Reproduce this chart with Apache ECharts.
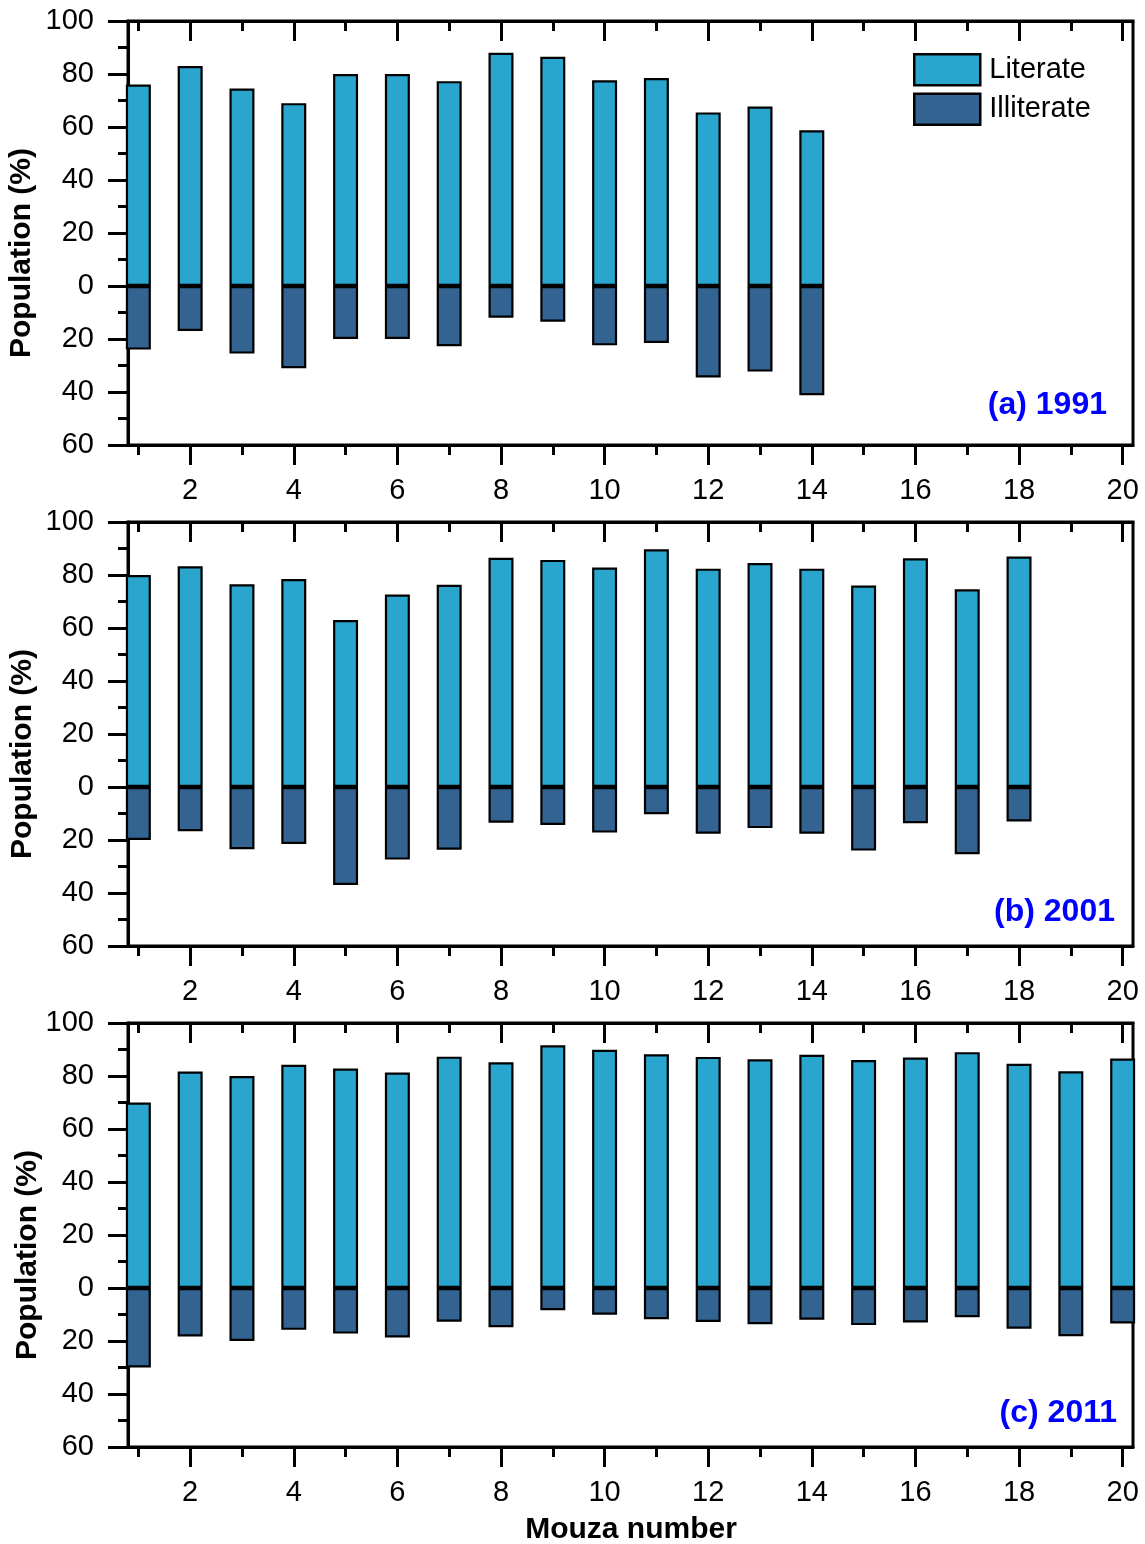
<!DOCTYPE html>
<html>
<head>
<meta charset="utf-8">
<script src="https://cdn.jsdelivr.net/npm/echarts@6/dist/echarts.min.js"></script>
<style>
html,body{margin:0;padding:0;background:#fff;}
#chart{width:1145px;height:1544px;}
</style>
</head>
<body>
<div id="chart"></div>
<script>
// ---- data ----
const mouza1991 = [1,2,3,4,5,6,7,8,9,10,11,12,13,14];
const literate1991 = [76, 83, 74.5, 69, 80, 80, 77.3, 88, 86.5, 77.6, 78.5, 65.5, 67.7, 58.8];
const illiterate1991 = [24, 17, 25.5, 31, 20, 20, 22.7, 12, 13.5, 22.4, 21.5, 34.5, 32.3, 41.2];

const mouza2001 = [1,2,3,4,5,6,7,8,9,10,11,12,13,14,15,16,17,18];
const literate2001 = [80, 83.3, 76.5, 78.5, 63, 72.6, 76.3, 86.5, 85.7, 82.8, 89.7, 82.4, 84.5, 82.4, 76, 86.3, 74.6, 87];
const illiterate2001 = [20, 16.7, 23.5, 21.5, 37, 27.4, 23.7, 13.5, 14.3, 17.2, 10.3, 17.6, 15.5, 17.6, 24, 13.7, 25.4, 13];

const mouza2011 = [1,2,3,4,5,6,7,8,9,10,11,12,13,14,15,16,17,18,19,20];
const literate2011 = [70, 81.7, 80, 84.2, 82.8, 81.3, 87.3, 85.2, 91.6, 89.9, 88.2, 87.2, 86.3, 88, 86, 87, 89, 84.6, 81.8, 86.6];
const illiterate2011 = [30, 18.3, 20, 15.8, 17.2, 18.7, 12.7, 14.8, 8.4, 10.1, 11.8, 12.8, 13.7, 12, 14, 13, 11, 15.4, 18.2, 13.4];

const panelLabels = ['(a) 1991', '(b) 2001', '(c) 2011'];
const xMajorTicks = [2,4,6,8,10,12,14,16,18,20];
const xMinorTicks = [1,3,5,7,9,11,13,15,17,19];
const yAxisTitle = 'Population (%)';
const xAxisTitle = 'Mouza number';
const seriesNames = ['Literate', 'Illiterate'];

// ---- layout / style ----
const FONT = 'Liberation Sans, Arial, sans-serif';
const LIT_COLOR = '#29a5ce';
const ILL_COLOR = '#326391';
const panelTops = [21, 522, 1023];
const panelH = 424;
const gridLeft = 128, gridWidth = 1005;

const panels = [
  {x: mouza1991, lit: literate1991, ill: illiterate1991},
  {x: mouza2001, lit: literate2001, ill: illiterate2001},
  {x: mouza2011, lit: literate2011, ill: illiterate2011}
];

const grids = [], xAxes = [], yAxes = [], series = [], graphics = [];
const lineW = 3;
const axisLineStyle = {color: '#000', width: lineW};

panels.forEach((p, i) => {
  grids.push({left: gridLeft, top: panelTops[i], width: gridWidth, height: panelH,
    show: true, borderColor: '#000', borderWidth: lineW, backgroundColor: 'transparent'});
});
panels.forEach((p, i) => {
  grids.push({left: gridLeft, top: panelTops[i], width: gridWidth, height: panelH, show: false});
});

panels.forEach((p, i) => {
  xAxes.push({type: 'value', gridIndex: i, position: 'bottom', min: 0.8, max: 20.2,
    axisLine: {show: true, onZero: false, lineStyle: axisLineStyle},
    axisTick: {show: true, customValues: xMajorTicks, length: 20, inside: false, lineStyle: axisLineStyle},
    axisLabel: {show: true, customValues: xMajorTicks, margin: 31, color: '#000', fontSize: 29, fontFamily: FONT},
    splitLine: {show: false}});
});
panels.forEach((p, i) => {
  xAxes.push({type: 'value', gridIndex: i, position: 'top', min: 0.8, max: 20.2,
    axisLine: {show: true, onZero: false, lineStyle: axisLineStyle},
    axisTick: {show: true, customValues: xMajorTicks, length: 20, inside: true, lineStyle: axisLineStyle},
    axisLabel: {show: false}, splitLine: {show: false}});
});
panels.forEach((p, i) => {
  xAxes.push({type: 'value', gridIndex: 3 + i, position: 'bottom', min: 0.8, max: 20.2,
    axisLine: {show: false, onZero: false},
    axisTick: {show: true, customValues: xMinorTicks, length: 10, inside: false, lineStyle: axisLineStyle},
    axisLabel: {show: false}, splitLine: {show: false}});
});
panels.forEach((p, i) => {
  xAxes.push({type: 'value', gridIndex: 3 + i, position: 'top', min: 0.8, max: 20.2,
    axisLine: {show: false, onZero: false},
    axisTick: {show: true, customValues: xMinorTicks, length: 10, inside: true, lineStyle: axisLineStyle},
    axisLabel: {show: false}, splitLine: {show: false}});
});

panels.forEach((p, i) => {
  yAxes.push({type: 'value', gridIndex: i, position: 'left', min: -60, max: 100, interval: 20,
    axisLine: {show: true, onZero: false, lineStyle: axisLineStyle},
    axisTick: {show: true, length: 20, inside: false, lineStyle: axisLineStyle},
    minorTick: {show: true, splitNumber: 2, length: 10, lineStyle: axisLineStyle},
    axisLabel: {show: true, margin: 34, color: '#000', fontSize: 29, fontFamily: FONT,
      formatter: v => String(Math.abs(v))},
    splitLine: {show: false}, minorSplitLine: {show: false}});
});
panels.forEach((p, i) => {
  yAxes.push({type: 'value', gridIndex: 3 + i, min: -60, max: 100, show: false});
});

const barStyle = c => ({color: c, borderColor: '#000', borderWidth: 2.2});

panels.forEach((p, i) => {
  series.push({name: seriesNames[0], type: 'bar', xAxisIndex: i, yAxisIndex: i,
    barWidth: 25, barGap: '-100%', itemStyle: barStyle(LIT_COLOR),
    data: p.x.map((x, k) => [x, p.lit[k]]), clip: true, z: 2});
  series.push({name: seriesNames[1], type: 'bar', xAxisIndex: i, yAxisIndex: i,
    barWidth: 25, barGap: '-100%', itemStyle: barStyle(ILL_COLOR),
    data: p.x.map((x, k) => [x, -p.ill[k]]), clip: true, z: 2});
});

const yTitleX = [22, 23, 28];
const labelRight = [1107, 1115, 1117];
const labelOffsetFromBottom = [40, 34, 34];
panels.forEach((p, i) => {
  graphics.push({type: 'text', x: yTitleX[i], y: panelTops[i] + panelH / 2 + 20, rotation: Math.PI / 2,
    style: {text: yAxisTitle, fontSize: 30, fontWeight: 'bold', fontFamily: FONT, fill: '#000',
      align: 'center', verticalAlign: 'middle'}});
  graphics.push({type: 'text', x: labelRight[i], y: panelTops[i] + panelH - labelOffsetFromBottom[i],
    style: {text: panelLabels[i], fontSize: 32, fontWeight: 'bold', fontFamily: FONT, fill: '#0000ff',
      align: 'right', verticalAlign: 'middle'}});
});
graphics.push({type: 'text', x: 631, y: 1530,
  style: {text: xAxisTitle, fontSize: 30, fontWeight: 'bold', fontFamily: FONT, fill: '#000',
    align: 'center', verticalAlign: 'middle'}});

const chart = echarts.init(document.getElementById('chart'), null, {renderer: 'canvas'});
chart.setOption({
  animation: false,
  backgroundColor: '#fff',
  grid: grids,
  xAxis: xAxes,
  yAxis: yAxes,
  legend: {
    show: true, orient: 'vertical', left: 913, top: 53, padding: 0,
    itemWidth: 66, itemHeight: 31, itemGap: 6, icon: 'rect',
    data: seriesNames,
    itemStyle: {borderColor: '#000', borderWidth: 2.5},
    textStyle: {fontSize: 29, fontFamily: FONT, color: '#000', padding: [0, 0, 0, 4]},
    selectedMode: false
  },
  series: series,
  graphic: graphics
});
</script>
</body>
</html>
